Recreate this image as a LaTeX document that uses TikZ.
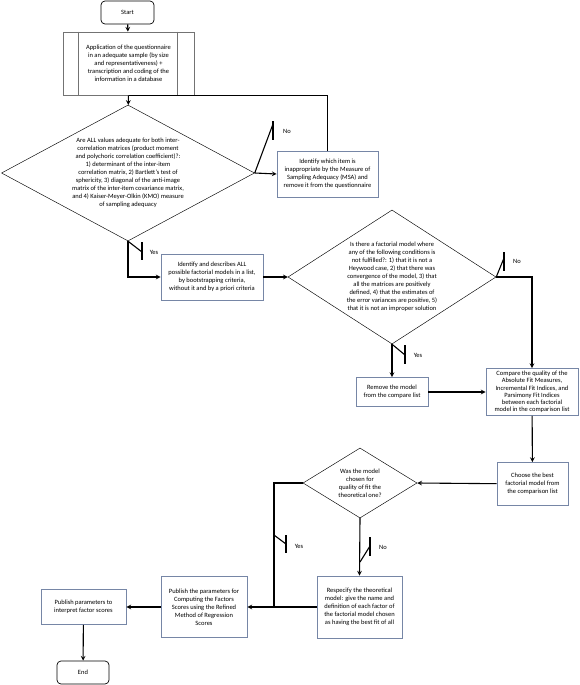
\documentclass[tikz,border=0pt]{standalone}
\usepackage{fontspec}
\setmainfont{Carlito}
\usetikzlibrary{shapes.geometric}
\definecolor{boxline}{RGB}{118,134,166}
\tikzset{
  box/.style={rectangle, draw=boxline, line width=0.8pt, align=center, inner sep=0pt},
  terminal/.style={rectangle, rounded corners=4pt, draw, line width=0.7pt, inner sep=0pt},
  decision/.style={diamond, draw, line width=0.45pt, inner sep=0pt},
  switchbar/.style={line width=1.1pt},
}

\begin{document}
\begin{tikzpicture}[x=1pt, y=-1pt, >=stealth, line width=1.1pt, every node/.style={font=\fontsize{6.5}{8}\selectfont, align=center}]
        \useasboundingbox (0,0) rectangle (579,685);
        % boxes
        \node[terminal, minimum width=53pt, minimum height=23pt] (start) at (127.5,12.5) {Start};
        \node[rectangle, draw=black!55, line width=0.7pt, minimum width=131pt, minimum height=63pt] (apply) at (128.5,63.5) {Application of the questionnaire\\in an adequate sample (by size\\and representativeness) +\\transcription and coding of the\\information in a database};
        \draw[black!55, line width=0.7pt] ([xshift=16pt]apply.north west) -- ([xshift=16pt]apply.south west);
        \draw[black!55, line width=0.7pt] ([xshift=-17pt]apply.north east) -- ([xshift=-17pt]apply.south east);
        \node[decision, minimum width=253pt, minimum height=136pt] (adequate) at (128,173) {};
        \node (adequatetext) at (adequate) {Are ALL values adequate for both inter-\\correlation matrices (product moment\\and polychoric correlation coefficient)?:\\1) determinant of the inter-item\\correlation matrix, 2) Bartlett's test of\\sphericity, 3) diagonal of the anti-image\\matrix of the inter-item covariance matrix,\\and 4) Kaiser-Meyer-Olkin (KMO) measure\\of sampling adequacy};
        \node[box, minimum width=101pt, minimum height=46pt] (msa) at (327.5,174) {Identify which item is\\inappropriate by the Measure of\\Sampling Adequacy (MSA) and\\remove it from the questionnaire};
        \node[box, minimum width=102pt, minimum height=46pt] (identify) at (212,277) {Identify and describes ALL\\possible factorial models in a list,\\by bootstrapping criteria,\\without it and by a priori criteria};
        \node[decision, minimum width=208pt, minimum height=134pt] (factorial) at (392,277) {};
        \node (factorialtext) at (factorial) {Is there a factorial model where\\any of the following conditions is\\not fulfilled?: 1) that it is not a\\Heywood case, 2) that there was\\convergence of the model, 3) that\\all the matrices are positively\\defined, 4) that the estimates of\\the error variances are positive, 5)\\that it is not an improper solution};
        \node[box, minimum width=72pt, minimum height=29pt] (remove) at (392,392) {Remove the model\\from the compare list};
        \node[box, minimum width=92pt, minimum height=47pt, font=\fontsize{6.5}{7.3}\selectfont] (compare) at (532,392) {Compare the quality of the\\Absolute Fit Measures,\\Incremental Fit Indices, and\\Parsimony Fit Indices\\between each factorial\\model in the comparison list};
        \node[box, minimum width=71pt, minimum height=43pt] (choose) at (532.5,484) {Choose the best\\factorial model from\\the comparison list};
        \node[decision, minimum width=114pt, minimum height=70pt] (chosen) at (360,483) {};
        \node (chosentext) at (chosen) {Was the model\\chosen for\\quality of fit the\\theoretical one?};
        \node[box, minimum width=85pt, minimum height=62pt] (respecify) at (359.5,607) {Respecify the theoretical\\model: give the name and\\definition of each factor of\\the factorial model chosen\\as having the best fit of all};
        \node[box, minimum width=86pt, minimum height=61pt] (publish) at (204,607) {Publish the parameters for\\Computing the Factors\\Scores using the Refined\\Method of Regression\\Scores};
        \node[box, minimum width=85pt, minimum height=35pt] (interpret) at (83.5,607) {Publish parameters to\\interpret factor scores};
        \node[terminal, minimum width=52pt, minimum height=23pt] (End) at (83,672.5) {End};
        % connectors
        \draw[->] (start) -- (apply);
        \draw[->] (apply) -- (adequate);
        \draw (msa.north) |- (apply.south);
        \draw[->] (adequate.east) -- (msa.west);
        \draw[->] (adequate.south) |- (identify.west);
        \draw[->] (identify) -- (factorial.west);
        \draw[->] (factorial.east) -| (compare.north);
        \draw[->] (factorial.south) -- (remove.north);
        \draw[->] (remove) -- (compare);
        \draw[->] (compare) -- (choose);
        \draw[->] (choose) -- (chosen.east);
        \draw[->] (chosen.south) -- (respecify.north);
        \coordinate (join) at (274,607);
        \draw (chosen.west) -| (join);
        \draw[->] (respecify) -- (publish);
        \draw[->] (publish) -- (interpret);
        \draw[->] (interpret) -- (End);
        % switches
        \coordinate (noAtop) at (273,121);
        \coordinate (noAbot) at (273,140);
        \draw[switchbar] (adequate.east) -- (273,124);
        \draw[switchbar] (noAtop) -- (noAbot);
        \node (noA) at (287,131) {No};
        \coordinate (yesAtop) at (142,242);
        \coordinate (yesAbot) at (142,260);
        \draw[switchbar] (adequate.south) -- (142,252);
        \draw[switchbar] (yesAtop) -- (yesAbot);
        \node (yesA) at (154,252) {Yes};
        \coordinate (noBtop) at (504,252);
        \coordinate (noBbot) at (504,271);
        \draw[switchbar] (factorial.east) -- (504,258);
        \draw[switchbar] (noBtop) -- (noBbot);
        \node (noB) at (517,261) {No};
        \coordinate (yesBtop) at (405,345);
        \coordinate (yesBbot) at (405,364);
        \draw[switchbar] (factorial.south) -- (405,355);
        \draw[switchbar] (yesBtop) -- (yesBbot);
        \node (yesB) at (418,355) {Yes};
        \coordinate (yesCtop) at (286,535);
        \coordinate (yesCbot) at (286,553);
        \draw[switchbar] (274,535) -- (286,544);
        \draw[switchbar] (yesCtop) -- (yesCbot);
        \node (yesC) at (299,546) {Yes};
        \coordinate (noCtop) at (370,537);
        \coordinate (noCbot) at (370,556);
        \draw[switchbar] (360,562) -- (370,546);
        \draw[switchbar] (noCtop) -- (noCbot);
        \node (noC) at (383,547) {No};
    \end{tikzpicture}
\end{document}
